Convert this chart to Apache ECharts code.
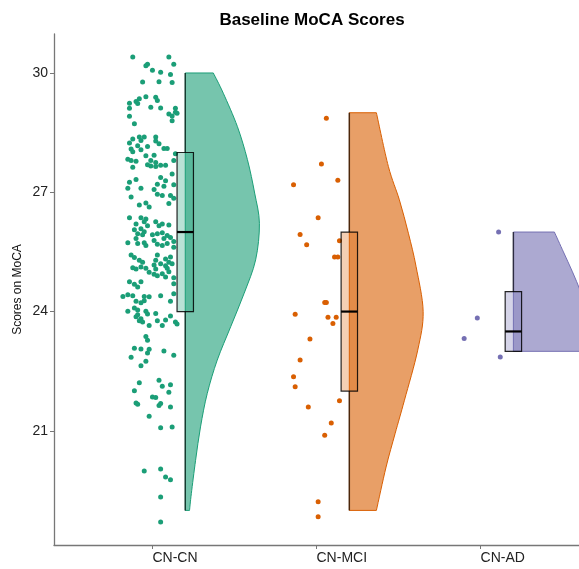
<!DOCTYPE html>
<html lang="en">
<head>
<meta charset="UTF-8">
<title>Baseline MoCA Scores</title>
<style>
  * { margin: 0; }
  html, body, #chart { width: 100%; height: 100%; background: #fff; }
</style>
</head>
<body>
<div id="chart"></div>
<script src="https://cdn.jsdelivr.net/npm/echarts@6/dist/echarts.min.js"></script>
<script>
var groups = ['CN-CN', 'CN-MCI', 'CN-AD'];
var colors = ['#1B9E77', '#D95F02', '#7570B3'];
var yTicks = [21, 24, 27, 30];

// box stats: [lower whisker, Q1, median, Q3, upper whisker]
var boxCN = [19, 24, 26, 28, 30];
var boxMCI = [19, 22, 24, 26, 29];
var boxAD = [23, 23, 23.5, 24.5, 26];

// half violin outline, top to bottom: [score, density width in category units]
var densCN = [[30, 0.171], [29.49, 0.232], [28.65, 0.318], [27.82, 0.379], [26.98, 0.423], [26.22, 0.452],
  [25.3, 0.429], [24.46, 0.359], [23.62, 0.277], [22.78, 0.195], [21.94, 0.134], [21.1, 0.093],
  [20.26, 0.063], [19.42, 0.037], [19, 0.026]];
var densMCI = [[29, 0.165], [27.65, 0.238], [26.81, 0.305], [25.97, 0.36], [25.13, 0.407], [24, 0.45],
  [23.03, 0.417], [21.77, 0.336], [20.93, 0.279], [20.09, 0.224], [19, 0.165]];
var densAD = [[26, 0.25], [25.5, 0.305], [25, 0.36], [24.5, 0.41], [24, 0.45], [23.5, 0.47], [23, 0.47]];

// jittered points: [x jitter, score]
var ptsCN = [
  [-0.12, 30.40], [0.10, 30.40], [-0.03, 30.22], [-0.04, 30.18], [0.13, 30.22], [0.00, 30.07], [0.05, 30.02],
  [0.11, 29.96], [-0.06, 29.77], [0.04, 29.78], [0.12, 29.76], [-0.04, 29.40], [0.02, 29.39], [-0.08, 29.35],
  [-0.10, 29.28], [0.03, 29.31], [-0.14, 29.24], [-0.09, 29.23], [-0.01, 29.14], [0.05, 29.12], [-0.14, 29.11],
  [0.14, 29.11], [0.14, 29.01], [0.10, 28.97], [0.15, 28.99], [-0.14, 28.91], [0.12, 28.92], [0.12, 28.80],
  [-0.11, 28.72], [-0.08, 28.39], [-0.05, 28.39], [-0.12, 28.34], [-0.07, 28.30], [0.02, 28.39], [0.02, 28.29],
  [-0.14, 28.24], [-0.09, 28.17], [-0.03, 28.15], [0.04, 28.22], [-0.13, 28.09], [-0.12, 28.02], [-0.07, 28.07],
  [0.07, 28.10], [0.09, 28.10], [-0.04, 27.92], [0.01, 27.93], [0.14, 27.97], [-0.15, 27.83], [-0.13, 27.80],
  [-0.10, 27.78], [-0.01, 27.80], [0.02, 27.75], [0.13, 27.80], [-0.01, 27.66], [0.05, 27.68], [0.08, 27.68],
  [-0.03, 27.69], [-0.12, 27.63], [0.02, 27.65], [0.12, 27.46],
  [-0.10, 27.32], [-0.14, 27.25], [0.05, 27.37], [0.08, 27.29], [0.03, 27.20], [0.13, 27.19], [-0.15, 27.10],
  [-0.07, 27.10], [0.01, 27.07], [0.07, 27.15], [-0.13, 26.88], [0.03, 26.95], [0.06, 26.92], [0.11, 26.92],
  [0.13, 26.85], [-0.04, 26.73], [-0.08, 26.68], [-0.02, 26.63], [0.10, 26.72], [-0.14, 26.36], [-0.07, 26.36],
  [-0.04, 26.33], [-0.10, 26.20], [-0.05, 26.26], [-0.03, 26.16], [0.02, 26.26], [0.04, 26.16], [0.06, 26.20],
  [0.10, 26.18], [-0.11, 26.06], [-0.07, 26.08], [-0.05, 26.01], [-0.09, 25.96], [-0.06, 25.93], [0.00, 25.93],
  [0.03, 25.96], [0.06, 25.98], [0.09, 25.91], [0.11, 25.86], [0.07, 25.84], [-0.10, 25.84], [0.01, 25.79],
  [-0.15, 25.73], [-0.09, 25.71], [-0.05, 25.73], [-0.04, 25.66], [0.03, 25.69], [0.06, 25.66], [0.09, 25.71],
  [0.13, 25.76], [0.13, 25.62], [-0.13, 25.42], [-0.11, 25.36], [-0.08, 25.29], [-0.06, 25.24], [0.03, 25.42],
  [0.02, 25.29], [0.08, 25.32], [0.10, 25.24], [0.12, 25.20], [0.05, 25.20], [0.11, 25.37], [-0.12, 25.10],
  [-0.10, 25.07], [-0.07, 25.12], [-0.04, 25.09], [0.01, 25.17], [0.02, 25.07], [0.08, 25.15], [0.09, 25.09],
  [-0.02, 24.99], [0.01, 24.94], [0.03, 24.90], [0.06, 24.95], [0.08, 24.87], [0.10, 25.00], [0.13, 24.85],
  [-0.14, 24.75], [-0.11, 24.69], [-0.09, 24.62], [-0.07, 24.75], [0.13, 24.70], [-0.18, 24.38], [-0.15, 24.42],
  [-0.12, 24.40], [-0.05, 24.38], [-0.02, 24.37], [0.05, 24.40], [0.13, 24.45],
  [-0.10, 24.26], [-0.07, 24.22], [-0.05, 24.27], [0.11, 24.26], [-0.15, 24.01], [-0.11, 24.09], [-0.09, 24.04],
  [-0.04, 24.01], [-0.03, 23.94], [0.02, 23.95], [-0.10, 23.87], [-0.08, 23.77], [-0.06, 23.74], [-0.09, 23.92],
  [-0.07, 23.82], [-0.02, 23.65], [0.03, 23.77], [0.06, 23.65], [0.08, 23.79], [0.11, 23.89], [0.14, 23.74],
  [0.15, 23.69], [-0.04, 23.37], [-0.03, 23.28], [-0.11, 23.08], [-0.07, 23.06], [-0.02, 23.05], [-0.03, 22.96],
  [0.07, 23.01], [0.13, 22.90], [-0.13, 22.85], [-0.04, 22.75], [-0.07, 22.64], [-0.08, 22.21], [0.04, 22.27],
  [0.06, 22.12], [0.11, 22.16], [-0.11, 22.01], [0.10, 21.97], [0.00, 21.85], [0.02, 21.84], [-0.10, 21.70],
  [-0.09, 21.67], [0.05, 21.69], [0.04, 21.64], [0.11, 21.60], [-0.02, 21.37], [0.12, 21.10], [0.05, 21.08],
  [-0.05, 19.99], [0.05, 20.04], [0.08, 19.84], [0.11, 19.77], [0.05, 19.34], [0.05, 18.71]
];
var ptsMCI = [
  [0.06, 28.86], [0.03, 27.71], [-0.14, 27.19], [0.13, 27.30], [0.01, 26.36], [-0.10, 25.94], [-0.06, 25.68],
  [0.14, 25.78], [0.11, 25.37], [0.13, 25.37], [0.05, 24.23], [0.06, 24.23], [-0.13, 23.93], [0.07, 23.86],
  [0.12, 23.86], [0.10, 23.70], [-0.04, 23.31], [-0.10, 22.78], [-0.14, 22.36], [-0.13, 22.11], [0.14, 21.76],
  [-0.05, 21.60], [0.09, 21.20], [0.05, 20.89], [0.01, 19.22], [0.01, 18.84]
];
var ptsAD = [[0.11, 26.00], [-0.02, 23.84], [-0.10, 23.32], [0.12, 22.86]];

var boxes = [boxCN, boxMCI, boxAD];
var dens = [densCN, densMCI, densAD];
var pts = [ptsCN, ptsMCI, ptsAD];

var font = 'Liberation Sans, Arial, sans-serif';
var chart = echarts.init(document.getElementById('chart'));

// catmull-rom through the outline points, as cubic beziers
function smoothPath(p) {
  var d = '';
  for (var i = 0; i < p.length - 1; i++) {
    var p0 = p[i - 1] || p[i], p1 = p[i], p2 = p[i + 1], p3 = p[i + 2] || p2;
    var c1 = [p1[0] + (p2[0] - p0[0]) / 6, p1[1] + (p2[1] - p0[1]) / 6];
    var c2 = [p2[0] - (p3[0] - p1[0]) / 6, p2[1] - (p3[1] - p1[1]) / 6];
    d += ' C' + c1[0] + ' ' + c1[1] + ' ' + c2[0] + ' ' + c2[1] + ' ' + p2[0] + ' ' + p2[1];
  }
  return d;
}

var series = [];
groups.forEach(function (g, i) {
  var dd = dens[i];
  series.push({
    type: 'custom',
    name: g + ' violin',
    data: [[i + 1]],
    z: 1,
    renderItem: function (params, api) {
      var x = api.value(0) + 0.2;
      var top = api.coord([x, dd[0][0]]);
      var bottom = api.coord([x, dd[dd.length - 1][0]]);
      var outline = dd.map(function (d) { return api.coord([x + d[1], d[0]]); });
      var path = 'M' + bottom[0] + ' ' + bottom[1] + ' L' + top[0] + ' ' + top[1] +
        ' L' + outline[0][0] + ' ' + outline[0][1] + smoothPath(outline) + ' Z';
      return {
        type: 'path',
        shape: { pathData: path },
        style: { fill: echarts.color.modifyAlpha(colors[i], 0.6), stroke: colors[i], lineWidth: 1 }
      };
    }
  });
  series.push({
    type: 'scatter',
    name: g,
    data: pts[i].map(function (p) { return [i + 1 + p[0], p[1]]; }),
    symbolSize: 5,
    itemStyle: { color: colors[i], opacity: 1 },
    z: 2
  });
});

series.push({
  type: 'custom',
  name: 'boxes',
  z: 3,
  data: boxes.map(function (b, i) { return [i + 1].concat(b); }),
  renderItem: function (params, api) {
    var x = api.value(0) + 0.2;
    var c = colors[params.dataIndex];
    var lo = api.coord([x, api.value(1)]), q1 = api.coord([x, api.value(2)]);
    var md = api.coord([x, api.value(3)]), q3 = api.coord([x, api.value(4)]);
    var hi = api.coord([x, api.value(5)]);
    var l = api.coord([x - 0.05, 0])[0], r = api.coord([x + 0.05, 0])[0];
    var wStyle = { stroke: 'rgba(0,0,0,0.65)', lineWidth: 1.5 };
    return {
      type: 'group',
      children: [
        { type: 'line', shape: { x1: lo[0], y1: lo[1], x2: q1[0], y2: q1[1] }, style: wStyle },
        { type: 'line', shape: { x1: q3[0], y1: q3[1], x2: hi[0], y2: hi[1] }, style: wStyle },
        { type: 'rect', shape: { x: l, y: q3[1], width: r - l, height: q1[1] - q3[1] },
          style: { fill: echarts.color.modifyAlpha(c, 0.3), stroke: 'rgba(0,0,0,0.85)', lineWidth: 1.2 } },
        { type: 'line', shape: { x1: l, y1: md[1], x2: r, y2: md[1] }, style: { stroke: '#000', lineWidth: 2.2 } }
      ]
    };
  }
});

var option = {
  animation: false,
  backgroundColor: '#fff',
  title: {
    text: 'Baseline MoCA Scores',
    left: 307,
    top: 7,
    textAlign: 'center',
    textStyle: { fontSize: 17, fontWeight: 'bold', color: '#000', fontFamily: font }
  },
  grid: { left: 54, right: 0, top: 34, bottom: 24, outerBoundsMode: 'none' },
  xAxis: {
    type: 'value',
    min: 0.4,
    max: 3.6,
    axisLine: { onZero: false, lineStyle: { color: '#777', width: 1.3 } },
    axisTick: { customValues: [1, 2, 3], length: 4, lineStyle: { color: '#777' } },
    axisLabel: {
      customValues: [1, 2, 3],
      formatter: function (v) { return groups[Math.round(v) - 1]; },
      align: 'left', fontSize: 14, color: '#222', margin: 6, fontFamily: font
    },
    splitLine: { show: false }
  },
  yAxis: {
    type: 'value',
    min: 18.13,
    max: 30.98,
    name: 'Scores on MoCA',
    nameLocation: 'middle',
    nameGap: 30,
    nameMoveOverlap: false,
    nameTextStyle: { fontSize: 12, color: '#111', fontFamily: font },
    axisLine: { show: true, onZero: false, lineStyle: { color: '#777', width: 1.3 } },
    axisTick: { show: true, customValues: yTicks, length: 4, lineStyle: { color: '#777' } },
    axisLabel: { customValues: yTicks, fontSize: 14, color: '#222', margin: 6, fontFamily: font },
    splitLine: { show: false }
  },
  series: series
};
chart.setOption(option);
</script>
</body>
</html>
